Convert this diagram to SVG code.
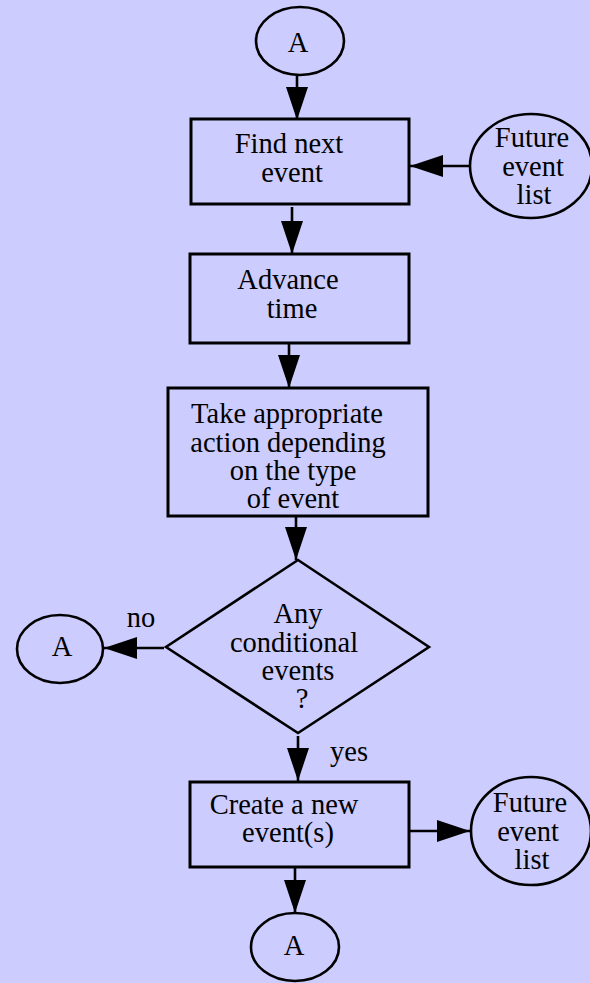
<svg xmlns="http://www.w3.org/2000/svg" width="590" height="983" viewBox="0 0 590 983">
<defs>
<style>
.bg{fill:#ccccff}
.shape{fill:#ccccff;stroke:#000;stroke-width:2.6}
.box{fill:#ccccff;stroke:#000;stroke-width:3}
.conn line{stroke:#000;stroke-width:2.6;marker-end:url(#ah)}
text{font-family:'Liberation Serif',serif;font-size:28.5px;fill:#000;text-anchor:middle}
</style>
<marker id="ah" markerUnits="userSpaceOnUse" markerWidth="34" markerHeight="24" refX="33" refY="11" orient="auto" viewBox="0 0 34 22">
<path d="M0,0 L33,11 L0,22 z" fill="#000"/>
</marker>
</defs>
<rect class="bg" x="0" y="0" width="590" height="983"/>
<g id="connectors" class="conn">
<line x1="297" y1="75" x2="297" y2="120"/>
<line x1="292" y1="207" x2="292" y2="254"/>
<line x1="289" y1="343" x2="289" y2="388"/>
<line x1="296" y1="516" x2="296" y2="560"/>
<line x1="469" y1="166" x2="410" y2="166"/>
<line x1="164" y1="648" x2="104" y2="648"/>
<line x1="298" y1="736" x2="298" y2="781"/>
<line x1="409" y1="831" x2="470" y2="831"/>
<line x1="295" y1="867" x2="295" y2="913"/>
</g>
<g id="startA">
<ellipse class="shape" cx="300" cy="41" rx="44" ry="34"/>
<text x="298" y="52">A</text>
</g>
<g id="findNext">
<rect class="box" x="191" y="119" width="218" height="85"/>
<text x="289" y="153">Find next</text>
<text x="292" y="182">event</text>
</g>
<g id="felTop">
<ellipse class="shape" cx="531" cy="166" rx="61" ry="52"/>
<text x="532" y="147">Future</text>
<text x="533" y="176">event</text>
<text x="534" y="204">list</text>
</g>
<g id="advance">
<rect class="box" x="190" y="254" width="219" height="89"/>
<text x="288" y="289">Advance</text>
<text x="292" y="318">time</text>
</g>
<g id="action">
<rect class="box" x="168" y="388" width="260" height="128"/>
<text x="287" y="423">Take appropriate</text>
<text x="288" y="452">action depending</text>
<text x="293" y="480">on the type</text>
<text x="293" y="508">of event</text>
</g>
<g id="decision">
<polygon class="shape" points="298,560 429,647 298,733 166,647"/>
<text x="298" y="623">Any</text>
<text x="294" y="652">conditional</text>
<text x="298" y="680">events</text>
<text x="302" y="708">?</text>
</g>
<g id="noA">
<ellipse class="shape" cx="60" cy="649" rx="43" ry="34"/>
<text x="62" y="656">A</text>
</g>
<text x="141" y="627">no</text>
<text x="349" y="761">yes</text>
<g id="create">
<rect class="box" x="190" y="782" width="219" height="85"/>
<text x="284" y="814">Create a new</text>
<text x="288" y="842">event(s)</text>
</g>
<g id="felBottom">
<ellipse class="shape" cx="531" cy="831" rx="60" ry="54"/>
<text x="530" y="812">Future</text>
<text x="528" y="841">event</text>
<text x="532" y="869">list</text>
</g>
<g id="endA">
<ellipse class="shape" cx="295" cy="947" rx="44" ry="34"/>
<text x="294" y="955">A</text>
</g>
</svg>
